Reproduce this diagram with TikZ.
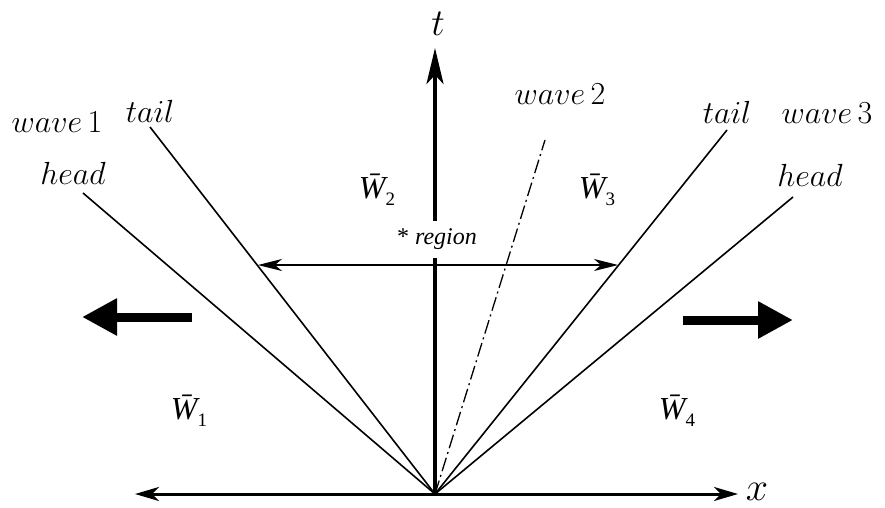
\RequirePackage{fix-cm}
\documentclass[tikz,border=0pt]{standalone}
\usepackage{fontspec}
\newfontfamily\tnr{Liberation Serif}
\usetikzlibrary{arrows.meta}
\newcommand\WB[1]{{\tnr\fontsize{32}{32}\selectfont\itshape\=W}\raisebox{-7pt}{\tnr\fontsize{19}{19}\selectfont #1}}
\begin{document}
\begin{tikzpicture}[x=1pt,y=-1pt,
  lbl/.style={font=\fontsize{32}{34}\selectfont, inner sep=0pt, anchor=base},
  wl/.style={inner sep=0pt},
  waveline/.style={line width=1.6pt},
  dashline/.style={line width=1.3pt, dash pattern=on 14pt off 4pt on 2pt off 4pt},
  xaxis/.style={line width=3pt, {Stealth[length=24pt,width=14pt,inset=7pt]}-{Stealth[length=24pt,width=14pt,inset=7pt]}},
  taxis/.style={line width=4pt, -{Stealth[length=36pt,width=17pt,inset=9pt]}},
  regarrow/.style={line width=1.5pt, {Stealth[length=24pt,width=12pt,inset=7pt]}-{Stealth[length=24pt,width=12pt,inset=7pt]}},
  bigarrow/.style={line width=9pt, -{Triangle[length=35pt,width=35pt]}}
]
\useasboundingbox (0,0) rectangle (885,508);
% coordinates
\coordinate (O) at (435,494);
\coordinate (H1) at (83,193);
\coordinate (T1) at (150,127);
\coordinate (W2) at (545,140);
\coordinate (T3) at (727,130);
\coordinate (H3) at (793,197);
\coordinate (XL) at (135,494);
\coordinate (XR) at (738,494);
\coordinate (TT) at (435,48);
\coordinate (RL) at (258,265);
\coordinate (RR) at (618,265);
\coordinate (LA1) at (192,317);
\coordinate (LA2) at (82,317);
\coordinate (RA1) at (683,320);
\coordinate (RA2) at (793,320);
% wave lines
\draw[waveline] (O) -- (H1);
\draw[waveline] (O) -- (T1);
\draw[dashline] (O) -- (W2);
\draw[waveline] (O) -- (T3);
\draw[waveline] (O) -- (H3);
% axes
\draw[xaxis] (XL) -- (XR);
\draw[taxis] (O) -- (TT);
% region arrow
\draw[regarrow] (RL) -- (RR);
% big arrows
\draw[bigarrow] (LA1) -- (LA2);
\draw[bigarrow] (RA1) -- (RA2);
% labels
\node[fill=white, inner xsep=2pt, inner ysep=8pt, font=\tnr\fontsize{24}{26}\selectfont] (reg) at (437,239) {* \itshape region};
\node[font=\fontsize{38}{40}\selectfont, inner sep=0pt] (tl) at (438,24) {$t$};
\node[font=\fontsize{40}{42}\selectfont, inner sep=0pt] (xl) at (757,492) {$x$};
\node[lbl] (wave1) at (57,132) {$wave\,1$};
\node[lbl] (tail1) at (150,122) {$tail$};
\node[lbl] (head1) at (73,184) {$head$};
\node[lbl] (wave2) at (560,105) {$wave\,2$};
\node[lbl] (tail3) at (727,123) {$tail$};
\node[lbl] (wave3) at (827,123) {$wave\,3$};
\node[lbl] (head3) at (810,186) {$head$};
\node[wl] (w1) at (189,411) {\WB{1}};
\node[wl] (w2) at (377,190) {\WB{2}};
\node[wl] (w3) at (597,190) {\WB{3}};
\node[wl] (w4) at (677,411) {\WB{4}};
\end{tikzpicture}
\end{document}
